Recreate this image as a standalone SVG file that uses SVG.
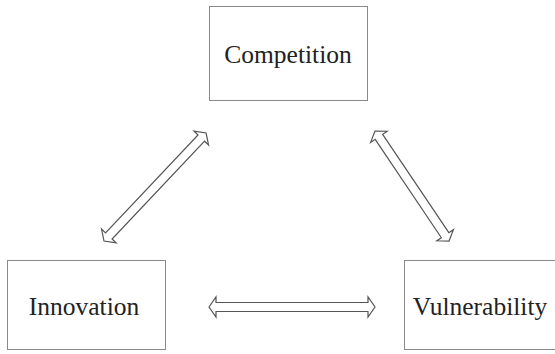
<svg xmlns="http://www.w3.org/2000/svg" width="555" height="354" viewBox="0 0 555 354">
<style>
.box{fill:#fff;stroke:#8a8a8a;stroke-width:1}
.lbl{font-family:"Liberation Serif","Times New Roman",serif;font-size:25.5px;fill:#222;text-anchor:middle}
.arr{fill:#fff;stroke:#555;stroke-width:1.2;stroke-linejoin:miter}
</style>
<rect width="555" height="354" fill="#fff"/>
<g id="connectors">
<path class="arr" transform="translate(209,307)" d="M0,0 L7,-10 L7,-4.5 L159,-4.5 L159,-10 L166,0 L159,10 L159,4.5 L7,4.5 L7,10 Z"/>
<path class="arr" transform="translate(104,241) rotate(-46.6)" d="M0,0 L7,-10 L7,-4.5 L141.6,-4.5 L141.6,-10 L148.6,0 L141.6,10 L141.6,4.5 L7,4.5 L7,10 Z"/>
<path class="arr" transform="translate(375,131) rotate(56.07)" d="M0,0 L7,-10 L7,-4.5 L125.6,-4.5 L125.6,-10 L132.6,0 L125.6,10 L125.6,4.5 L7,4.5 L7,10 Z"/>
</g>
<g id="competition">
<rect class="box" x="209.5" y="6.5" width="158" height="94"/>
<text class="lbl" x="288" y="63">Competition</text>
</g>
<g id="innovation">
<rect class="box" x="7.5" y="260.5" width="158" height="89"/>
<text class="lbl" x="84" y="315">Innovation</text>
</g>
<g id="vulnerability">
<rect class="box" x="404.5" y="260.5" width="164" height="89"/>
<text class="lbl" x="480" y="315">Vulnerability</text>
</g>
</svg>
